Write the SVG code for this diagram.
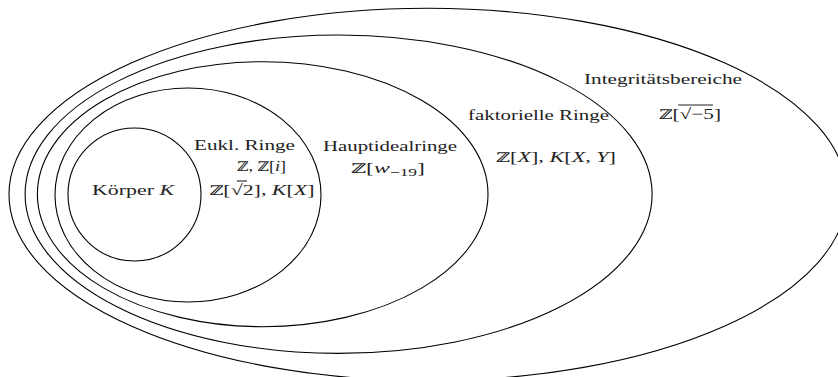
<svg xmlns="http://www.w3.org/2000/svg" width="838" height="377" viewBox="0 0 838 377">
<style>
.set{fill:none;stroke:#000;stroke-width:1.1}
text{font-family:"Liberation Serif","DejaVu Serif",serif;font-size:15px;fill:#222}
.m{font-style:italic}
.bb{font-family:"DejaVu Serif","Noto Sans",serif;font-size:13px}
.ov{stroke:#222;stroke-width:1.1}
</style>
<rect width="838" height="377" fill="#fff"/>
<g id="integritaetsbereiche">
<ellipse class="set" cx="428" cy="194.5" rx="419" ry="186.2"/>
<text x="584" y="84" textLength="158" lengthAdjust="spacingAndGlyphs">Integritätsbereiche</text>
<text x="659" y="119" textLength="62" lengthAdjust="spacingAndGlyphs"><tspan class="bb">ℤ</tspan>[√−5]</text>
<line class="ov" x1="678" y1="105" x2="713" y2="105"/>
</g>
<g id="faktorielle">
<ellipse class="set" cx="338.6" cy="194.2" rx="313.5" ry="159.2"/>
<text x="468" y="120" textLength="141" lengthAdjust="spacingAndGlyphs">faktorielle Ringe</text>
<text x="496" y="162" textLength="120" lengthAdjust="spacingAndGlyphs"><tspan class="bb">ℤ</tspan>[<tspan class="m">X</tspan>], <tspan class="m">K</tspan>[<tspan class="m">X</tspan>, <tspan class="m">Y</tspan>]</text>
</g>
<g id="hauptidealringe">
<ellipse class="set" cx="262.7" cy="194.2" rx="225.3" ry="132.5"/>
<text x="323" y="151" textLength="134" lengthAdjust="spacingAndGlyphs">Hauptidealringe</text>
<text x="351" y="173" textLength="74" lengthAdjust="spacingAndGlyphs"><tspan class="bb">ℤ</tspan>[<tspan class="m">w</tspan><tspan font-size="11" dy="3">−19</tspan><tspan dy="-3">]</tspan></text>
</g>
<g id="euklidische">
<ellipse class="set" cx="188" cy="195" rx="133" ry="107"/>
<text x="194" y="150" textLength="101" lengthAdjust="spacingAndGlyphs">Eukl. Ringe</text>
<text x="237" y="171" textLength="49" lengthAdjust="spacingAndGlyphs"><tspan class="bb">ℤ</tspan>, <tspan class="bb">ℤ</tspan>[<tspan class="m">i</tspan>]</text>
<text x="209.5" y="195" textLength="105" lengthAdjust="spacingAndGlyphs"><tspan class="bb">ℤ</tspan>[√2], <tspan class="m">K</tspan>[<tspan class="m">X</tspan>]</text>
<line class="ov" x1="237" y1="181" x2="247" y2="181"/>
</g>
<g id="koerper">
<ellipse class="set" cx="134.5" cy="194.5" rx="66.5" ry="66.5"/>
<text x="92" y="195" textLength="82" lengthAdjust="spacingAndGlyphs">Körper <tspan class="m">K</tspan></text>
</g>
</svg>
